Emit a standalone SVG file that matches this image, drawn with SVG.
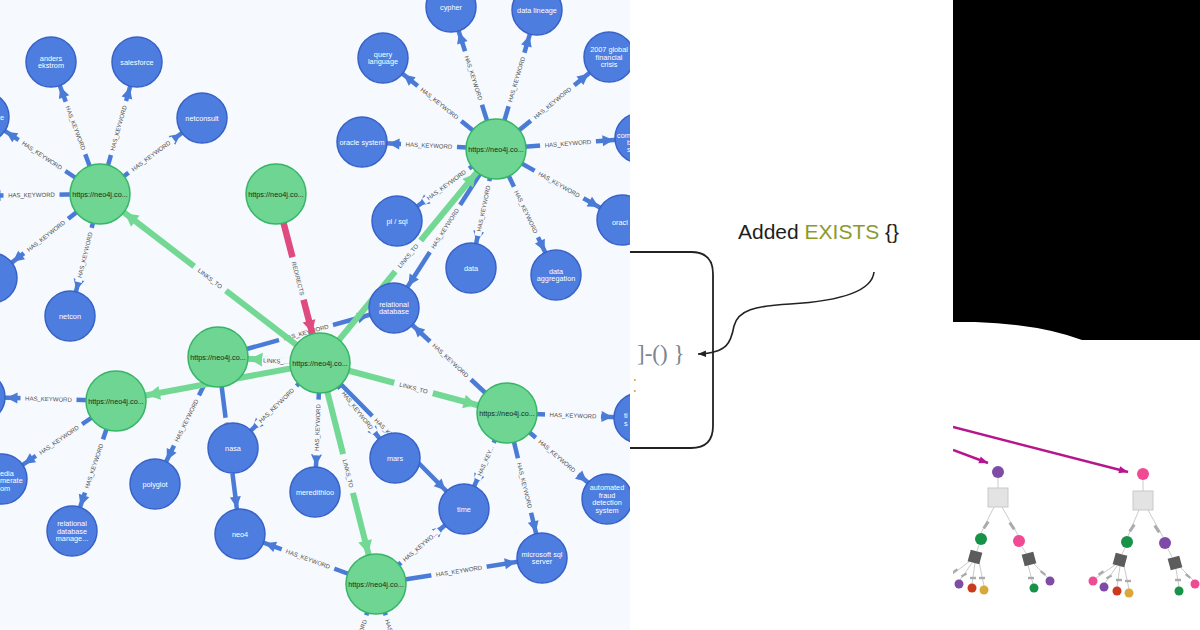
<svg xmlns="http://www.w3.org/2000/svg" width="1200" height="630" viewBox="0 0 1200 630">
<style>
.nb{fill:#4c7ddf;stroke:#3862c8;stroke-width:1.5}
.ng{fill:#6fd592;stroke:#36b566;stroke-width:1.5}
.tb{font-family:"Liberation Sans",Arial,sans-serif;font-size:7.3px;fill:#fff;text-anchor:middle}
.ts{font-family:"Liberation Sans",Arial,sans-serif;font-size:7.3px;fill:#fff}
.tg{font-family:"Liberation Sans",Arial,sans-serif;font-size:7.3px;fill:#1b2a20;text-anchor:middle}
.ek{stroke:#4a7bd6;stroke-width:4.5;fill:none;marker-end:url(#ab)}
.el{stroke:#72d894;stroke-width:6;fill:none;marker-end:url(#ag)}
.er{stroke:#df4a80;stroke-width:6.5;fill:none;marker-end:url(#ap)}
.lr{fill:#f6f9fd}
.lt{font-family:"Liberation Sans",Arial,sans-serif;font-size:6px;fill:#4d4d4d;text-anchor:middle}
.tl{stroke:#bdbdbd;stroke-width:0.8;fill:none}
.tr{fill:#ababab}
.dq{fill:#5c5c5c}
.lq{fill:#e3e3e3;stroke:#c9c9c9;stroke-width:1}
.cp{fill:#7e4ca6}.cg{fill:#179347}.ck{fill:#ef4a93}.cr{fill:#cc3a1e}.cy{fill:#d8a93a}
.mg{stroke:#b5168e;stroke-width:2.5;fill:none;marker-end:url(#am)}
</style>
<defs>
<clipPath id="cl"><rect x="0" y="0" width="630" height="630"/></clipPath>
<clipPath id="crt"><rect x="953" y="340" width="247" height="290"/></clipPath>
<marker id="ab" markerUnits="userSpaceOnUse" orient="auto" refX="37.5" refY="0" markerWidth="12" markerHeight="12" overflow="visible"><path d="M0,-5.5 L11,0 L0,5.5 Z" fill="#4a7bd6"/></marker>
<marker id="ag" markerUnits="userSpaceOnUse" orient="auto" refX="44.5" refY="0" markerWidth="14" markerHeight="14" overflow="visible"><path d="M0,-7 L13,0 L0,7 Z" fill="#72d894"/></marker>
<marker id="ap" markerUnits="userSpaceOnUse" orient="auto" refX="43.5" refY="0" markerWidth="14" markerHeight="14" overflow="visible"><path d="M0,-6.5 L12,0 L0,6.5 Z" fill="#df4a80"/></marker>
<marker id="am" markerUnits="userSpaceOnUse" orient="auto" refX="9" refY="0" markerWidth="10" markerHeight="10" overflow="visible"><path d="M0,-3.5 L9,0 L0,3.5 Z" fill="#b5168e"/></marker>
<marker id="ak" markerUnits="userSpaceOnUse" orient="auto" refX="8" refY="0" markerWidth="10" markerHeight="10" overflow="visible"><path d="M0,-3.2 L8,0 L0,3.2 Z" fill="#222"/></marker>
</defs>
<rect x="0" y="0" width="1200" height="630" fill="#ffffff"/>
<rect x="0" y="0" width="630" height="630" fill="#f6f9fd"/>

<g id="connectors" clip-path="url(#cl)">
<line class="ek" x1="100" y1="194" x2="51" y2="62"/><g transform="translate(75.5,128) rotate(69.6)"><rect class="lr" x="-28" y="-3.5" width="56" height="7"/><text class="lt" y="2.1">HAS_KEYWORD</text></g>
<line class="ek" x1="100" y1="194" x2="137" y2="62"/><g transform="translate(118.5,128) rotate(-74.3)"><rect class="lr" x="-28" y="-3.5" width="56" height="7"/><text class="lt" y="2.1">HAS_KEYWORD</text></g>
<line class="ek" x1="100" y1="194" x2="202" y2="118"/><g transform="translate(151,156) rotate(-36.7)"><rect class="lr" x="-28" y="-3.5" width="56" height="7"/><text class="lt" y="2.1">HAS_KEYWORD</text></g>
<line class="ek" x1="100" y1="194" x2="-16" y2="117"/><g transform="translate(42,155.5) rotate(33.6)"><rect class="lr" x="-28" y="-3.5" width="56" height="7"/><text class="lt" y="2.1">HAS_KEYWORD</text></g>
<line class="ek" x1="100" y1="194" x2="-37" y2="196"/><g transform="translate(31.5,195) rotate(-0.8)"><rect class="lr" x="-28" y="-3.5" width="56" height="7"/><text class="lt" y="2.1">HAS_KEYWORD</text></g>
<line class="ek" x1="100" y1="194" x2="-8" y2="278"/><g transform="translate(46,236) rotate(-37.9)"><rect class="lr" x="-28" y="-3.5" width="56" height="7"/><text class="lt" y="2.1">HAS_KEYWORD</text></g>
<line class="ek" x1="100" y1="194" x2="70" y2="316"/><g transform="translate(85,255) rotate(-76.2)"><rect class="lr" x="-28" y="-3.5" width="56" height="7"/><text class="lt" y="2.1">HAS_KEYWORD</text></g>
<line class="ek" x1="496" y1="149" x2="451" y2="7"/><g transform="translate(473.5,78) rotate(72.4)"><rect class="lr" x="-28" y="-3.5" width="56" height="7"/><text class="lt" y="2.1">HAS_KEYWORD</text></g>
<line class="ek" x1="496" y1="149" x2="537" y2="10"/><g transform="translate(516.5,79.5) rotate(-73.6)"><rect class="lr" x="-28" y="-3.5" width="56" height="7"/><text class="lt" y="2.1">HAS_KEYWORD</text></g>
<line class="ek" x1="496" y1="149" x2="383" y2="58"/><g transform="translate(439.5,103.5) rotate(38.8)"><rect class="lr" x="-28" y="-3.5" width="56" height="7"/><text class="lt" y="2.1">HAS_KEYWORD</text></g>
<line class="ek" x1="496" y1="149" x2="609" y2="57"/><g transform="translate(552.5,103) rotate(-39.2)"><rect class="lr" x="-28" y="-3.5" width="56" height="7"/><text class="lt" y="2.1">HAS_KEYWORD</text></g>
<line class="ek" x1="496" y1="149" x2="362" y2="142"/><g transform="translate(429,145.5) rotate(3)"><rect class="lr" x="-28" y="-3.5" width="56" height="7"/><text class="lt" y="2.1">HAS_KEYWORD</text></g>
<line class="ek" x1="496" y1="149" x2="640" y2="138"/><g transform="translate(568,143.5) rotate(-4.4)"><rect class="lr" x="-28" y="-3.5" width="56" height="7"/><text class="lt" y="2.1">HAS_KEYWORD</text></g>
<line class="ek" x1="496" y1="149" x2="622" y2="220"/><g transform="translate(559,184.5) rotate(29.4)"><rect class="lr" x="-28" y="-3.5" width="56" height="7"/><text class="lt" y="2.1">HAS_KEYWORD</text></g>
<line class="ek" x1="496" y1="149" x2="397" y2="221"/><g transform="translate(446.5,185) rotate(-36)"><rect class="lr" x="-28" y="-3.5" width="56" height="7"/><text class="lt" y="2.1">HAS_KEYWORD</text></g>
<line class="ek" x1="496" y1="149" x2="471" y2="268"/><g transform="translate(483.5,208.5) rotate(-78.1)"><rect class="lr" x="-28" y="-3.5" width="56" height="7"/><text class="lt" y="2.1">HAS_KEYWORD</text></g>
<line class="ek" x1="496" y1="149" x2="556" y2="275"/><g transform="translate(526,212) rotate(64.5)"><rect class="lr" x="-28" y="-3.5" width="56" height="7"/><text class="lt" y="2.1">HAS_KEYWORD</text></g>
<line class="ek" x1="496" y1="149" x2="394" y2="308"/><g transform="translate(445,228.5) rotate(-57.3)"><rect class="lr" x="-28" y="-3.5" width="56" height="7"/><text class="lt" y="2.1">HAS_KEYWORD</text></g>
<line class="ek" x1="218" y1="357" x2="394" y2="308"/><g transform="translate(306,332.5) rotate(-15.6)"><rect class="lr" x="-28" y="-3.5" width="56" height="7"/><text class="lt" y="2.1">HAS_KEYWORD</text></g>
<line class="ek" x1="320" y1="363" x2="233" y2="448"/><g transform="translate(276.5,405.5) rotate(-44.3)"><rect class="lr" x="-28" y="-3.5" width="56" height="7"/><text class="lt" y="2.1">HAS_KEYWORD</text></g>
<line class="ek" x1="320" y1="363" x2="315" y2="492"/><g transform="translate(317.5,427.5) rotate(-87.8)"><rect class="lr" x="-28" y="-3.5" width="56" height="7"/><text class="lt" y="2.1">HAS_KEYWORD</text></g>
<line class="ek" x1="320" y1="363" x2="395" y2="458"/><g transform="translate(357.5,410.5) rotate(51.7)"><rect class="lr" x="-28" y="-3.5" width="56" height="7"/><text class="lt" y="2.1">HAS_KEYWORD</text></g>
<line class="ek" x1="320" y1="363" x2="464" y2="509"/><g transform="translate(392,436) rotate(45.4)"><rect class="lr" x="-28" y="-3.5" width="56" height="7"/><text class="lt" y="2.1">HAS_KEYWORD</text></g>
<line class="ek" x1="218" y1="357" x2="155" y2="484"/><g transform="translate(186.5,420.5) rotate(-63.6)"><rect class="lr" x="-28" y="-3.5" width="56" height="7"/><text class="lt" y="2.1">HAS_KEYWORD</text></g>
<line class="ek" x1="218" y1="357" x2="240" y2="534"/><g transform="translate(229,445.5) rotate(82.9)"><rect class="lr" x="-28" y="-3.5" width="56" height="7"/><text class="lt" y="2.1">HAS_KEYWORD</text></g>
<line class="ek" x1="116" y1="401" x2="-20" y2="397"/><g transform="translate(48.5,399) rotate(1.7)"><rect class="lr" x="-28" y="-3.5" width="56" height="7"/><text class="lt" y="2.1">HAS_KEYWORD</text></g>
<line class="ek" x1="116" y1="401" x2="2" y2="479"/><g transform="translate(59,440) rotate(-34.4)"><rect class="lr" x="-28" y="-3.5" width="56" height="7"/><text class="lt" y="2.1">HAS_KEYWORD</text></g>
<line class="ek" x1="116" y1="401" x2="72" y2="531"/><g transform="translate(94,466) rotate(-71.3)"><rect class="lr" x="-28" y="-3.5" width="56" height="7"/><text class="lt" y="2.1">HAS_KEYWORD</text></g>
<line class="ek" x1="507" y1="413" x2="394" y2="308"/><g transform="translate(450.5,360.5) rotate(42.9)"><rect class="lr" x="-28" y="-3.5" width="56" height="7"/><text class="lt" y="2.1">HAS_KEYWORD</text></g>
<line class="ek" x1="507" y1="413" x2="639" y2="418"/><g transform="translate(573,415.5) rotate(2.2)"><rect class="lr" x="-28" y="-3.5" width="56" height="7"/><text class="lt" y="2.1">HAS_KEYWORD</text></g>
<line class="ek" x1="507" y1="413" x2="607" y2="499"/><g transform="translate(557,456) rotate(40.7)"><rect class="lr" x="-28" y="-3.5" width="56" height="7"/><text class="lt" y="2.1">HAS_KEYWORD</text></g>
<line class="ek" x1="507" y1="413" x2="542" y2="558"/><g transform="translate(524.5,485.5) rotate(76.4)"><rect class="lr" x="-28" y="-3.5" width="56" height="7"/><text class="lt" y="2.1">HAS_KEYWORD</text></g>
<line class="ek" x1="507" y1="413" x2="464" y2="509"/><g transform="translate(485.5,461) rotate(-65.9)"><rect class="lr" x="-20" y="-3.5" width="40" height="7"/><text class="lt" y="2.1">HAS_KEY...</text></g>
<line class="ek" x1="376" y1="584" x2="464" y2="509"/><g transform="translate(420,546.5) rotate(-40.4)"><rect class="lr" x="-25" y="-3.5" width="50" height="7"/><text class="lt" y="2.1">HAS_KEYWO...</text></g>
<line class="ek" x1="376" y1="584" x2="542" y2="558"/><g transform="translate(459,571) rotate(-8.9)"><rect class="lr" x="-28" y="-3.5" width="56" height="7"/><text class="lt" y="2.1">HAS_KEYWORD</text></g>
<line class="ek" x1="376" y1="584" x2="240" y2="534"/><g transform="translate(308,559) rotate(20.2)"><rect class="lr" x="-28" y="-3.5" width="56" height="7"/><text class="lt" y="2.1">HAS_KEYWORD</text></g>
<line class="ek" x1="376" y1="584" x2="340" y2="700"/><g transform="translate(358,642) rotate(-72.8)"><rect class="lr" x="-28" y="-3.5" width="56" height="7"/><text class="lt" y="2.1">HAS_KEYWORD</text></g>
<line class="ek" x1="376" y1="584" x2="412" y2="700"/><g transform="translate(394,642) rotate(72.8)"><rect class="lr" x="-28" y="-3.5" width="56" height="7"/><text class="lt" y="2.1">HAS_KEYWORD</text></g>

<line class="el" x1="320" y1="363" x2="100" y2="194"/><g transform="translate(210,278.5) rotate(37.5)"><rect class="lr" x="-20" y="-4" width="40" height="8"/><text class="lt" y="2.1">LINKS_TO</text></g>
<line class="el" x1="320" y1="363" x2="496" y2="149"/><g transform="translate(408,256) rotate(-50.6)"><rect class="lr" x="-20" y="-4" width="40" height="8"/><text class="lt" y="2.1">LINKS_TO</text></g>
<line class="el" x1="320" y1="363" x2="116" y2="401"/>
<line class="el" x1="320" y1="363" x2="218" y2="357"/><g transform="translate(276,361) rotate(3.4)"><rect class="lr" x="-14" y="-4" width="28" height="8"/><text class="lt" y="2.1">LINKS_...</text></g>
<line class="el" x1="320" y1="363" x2="507" y2="413"/><g transform="translate(413.5,388) rotate(15)"><rect class="lr" x="-20" y="-4" width="40" height="8"/><text class="lt" y="2.1">LINKS_TO</text></g>
<line class="el" x1="320" y1="363" x2="376" y2="584"/><g transform="translate(348,473.5) rotate(75.8)"><rect class="lr" x="-20" y="-4" width="40" height="8"/><text class="lt" y="2.1">LINKS_TO</text></g>

<line class="er" x1="276" y1="194" x2="320" y2="363"/><g transform="translate(298,278.5) rotate(75.4)"><rect class="lr" x="-22" y="-4" width="44" height="8"/><text class="lt" y="2.1">REDIRECTS</text></g>
</g>

<g id="nodes" clip-path="url(#cl)">
<g id="n-anders"><circle class="nb" cx="51" cy="62" r="25"/><text class="tb"><tspan x="51" y="60.85">anders</tspan><tspan x="51" y="68.35">ekstrom</tspan></text></g>
<g id="n-salesforce"><circle class="nb" cx="137" cy="62" r="25"/><text class="tb" x="137" y="64.6">salesforce</text></g>
<g id="n-netconsult"><circle class="nb" cx="202" cy="118" r="25"/><text class="tb" x="202" y="120.6">netconsult</text></g>
<g id="n-left1"><circle class="nb" cx="-16" cy="117" r="25"/><text class="ts" x="0" y="119.6">e</text></g>
<g id="n-left3"><circle class="nb" cx="-8" cy="278" r="25"/></g>
<g id="n-netcon"><circle class="nb" cx="70" cy="316" r="25"/><text class="tb" x="70" y="318.6">netcon</text></g>
<g id="n-cypher"><circle class="nb" cx="451" cy="7" r="25"/><text class="tb" x="451" y="9.6">cypher</text></g>
<g id="n-lineage"><circle class="nb" cx="537" cy="10" r="25"/><text class="tb" x="537" y="12.6">data lineage</text></g>
<g id="n-query"><circle class="nb" cx="383" cy="58" r="25"/><text class="tb"><tspan x="383" y="56.85">query</tspan><tspan x="383" y="64.35">language</tspan></text></g>
<g id="n-crisis"><circle class="nb" cx="609" cy="57" r="25"/><text class="tb"><tspan x="609" y="52.1">2007 global</tspan><tspan x="609" y="59.6">financial</tspan><tspan x="609" y="67.1">crisis</tspan></text></g>
<g id="n-oraclesys"><circle class="nb" cx="362" cy="142" r="25"/><text class="tb" x="362" y="144.6">oracle system</text></g>
<g id="n-com"><circle class="nb" cx="640" cy="138" r="25"/><text class="ts"><tspan x="617" y="137.6">com</tspan><tspan x="627" y="144.6">b</tspan><tspan x="627" y="151.6">s</tspan></text></g>
<g id="n-oracle"><circle class="nb" cx="622" cy="220" r="25"/><text class="ts" x="612" y="224.6">oracl</text></g>
<g id="n-plsql"><circle class="nb" cx="397" cy="221" r="25"/><text class="tb" x="397" y="223.6">pl / sql</text></g>
<g id="n-data"><circle class="nb" cx="471" cy="268" r="25"/><text class="tb" x="471" y="270.6">data</text></g>
<g id="n-dataagg"><circle class="nb" cx="556" cy="275" r="25"/><text class="tb"><tspan x="556" y="273.85">data</tspan><tspan x="556" y="281.35">aggregation</tspan></text></g>
<g id="n-reldb"><circle class="nb" cx="394" cy="308" r="25"/><text class="tb"><tspan x="394" y="306.85">relational</tspan><tspan x="394" y="314.35">database</tspan></text></g>
<g id="n-mars"><circle class="nb" cx="395" cy="458" r="25"/><text class="tb" x="395" y="460.6">mars</text></g>
<g id="n-time"><circle class="nb" cx="464" cy="509" r="25"/><text class="tb" x="464" y="511.6">time</text></g>
<g id="n-fraud"><circle class="nb" cx="607" cy="499" r="25"/><text class="tb"><tspan x="607" y="490.35">automated</tspan><tspan x="607" y="497.85">fraud</tspan><tspan x="607" y="505.35">detection</tspan><tspan x="607" y="512.85">system</tspan></text></g>
<g id="n-mssql"><circle class="nb" cx="542" cy="558" r="25"/><text class="tb"><tspan x="542" y="556.85">microsoft sql</tspan><tspan x="542" y="564.35">server</tspan></text></g>
<g id="n-ts"><circle class="nb" cx="639" cy="418" r="25"/><text class="ts"><tspan x="624" y="417.6">ti</tspan><tspan x="624" y="425.6">s</tspan></text></g>
<g id="n-left4"><circle class="nb" cx="-20" cy="397" r="25"/></g>
<g id="n-media"><circle class="nb" cx="2" cy="479" r="25"/><text class="ts"><tspan x="0" y="475.6">edia</tspan><tspan x="0" y="483.1">merate</tspan><tspan x="0" y="490.6">om</tspan></text></g>
<g id="n-rdbm"><circle class="nb" cx="72" cy="531" r="25"/><text class="tb"><tspan x="72" y="526.1">relational</tspan><tspan x="72" y="533.6">database</tspan><tspan x="72" y="541.1">manage...</tspan></text></g>
<g id="n-polyglot"><circle class="nb" cx="155" cy="484" r="25"/><text class="tb" x="155" y="486.6">polyglot</text></g>
<g id="n-nasa"><circle class="nb" cx="233" cy="448" r="25"/><text class="tb" x="233" y="450.6">nasa</text></g>
<g id="n-neo4"><circle class="nb" cx="240" cy="534" r="25"/><text class="tb" x="240" y="536.6">neo4</text></g>
<g id="n-mered"><circle class="nb" cx="315" cy="492" r="25"/><text class="tb" x="315" y="494.6">meredithloo</text></g>

<g id="hub-a"><circle class="ng" cx="100" cy="194" r="30"/><text class="tg" x="100" y="196.6">https://neo4j.co...</text></g>
<g id="hub-b"><circle class="ng" cx="276" cy="194" r="30"/><text class="tg" x="276" y="196.6">https://neo4j.co...</text></g>
<g id="hub-c"><circle class="ng" cx="496" cy="149" r="30"/><text class="tg" x="496" y="151.6">https://neo4j.co...</text></g>
<g id="hub-d"><circle class="ng" cx="320" cy="363" r="30"/><text class="tg" x="320" y="365.6">https://neo4j.co...</text></g>
<g id="hub-e"><circle class="ng" cx="507" cy="413" r="30"/><text class="tg" x="507" y="415.6">https://neo4j.co...</text></g>
<g id="hub-f"><circle class="ng" cx="376" cy="584" r="30"/><text class="tg" x="376" y="586.6">https://neo4j.co...</text></g>
<g id="hub-g"><circle class="ng" cx="116" cy="401" r="30"/><text class="tg" x="116" y="403.6">https://neo4j.co...</text></g>
<g id="hub-h"><circle class="ng" cx="218" cy="357" r="30"/><text class="tg" x="218" y="359.6">https://neo4j.co...</text></g>
</g>

<g id="middle">
<path d="M630,252 H691 Q713,252 713,274 V426 Q713,448 691,448 H630" fill="none" stroke="#222" stroke-width="1.8"/>
<text x="637" y="361" font-family="'Liberation Serif',serif" font-size="23" fill="#7a8590">]-() }</text>
<rect x="634" y="379" width="1.6" height="2" fill="#d2aa4a"/>
<rect x="634" y="390" width="1.6" height="2" fill="#d2aa4a"/>
<text x="738" y="239" font-family="'Liberation Sans',Arial,sans-serif" font-size="21" fill="#1e1e1e">Added <tspan fill="#8c9a2b">EXISTS</tspan> {}</text>
<path d="M874,272 C872,292 840,301 790,304 C755,306 738,310 734,326 C731,342 728,353 698,354" fill="none" stroke="#222" stroke-width="1.6" marker-end="url(#ak)"/>
</g>

<path id="black-panel" d="M953,0 H1200 V340 H1082 Q1040,324 975,322 H953 Z" fill="#000"/>

<g id="trees" clip-path="url(#crt)">
<line class="mg" x1="953" y1="427" x2="1128" y2="472"/>
<line class="mg" x1="953" y1="450" x2="988" y2="463"/>
<!-- tree 1 -->
<line class="tl" x1="998" y1="478" x2="998" y2="488"/>
<line class="tl" x1="994" y1="507" x2="981" y2="533"/>
<line class="tl" x1="1002" y1="507" x2="1018" y2="535"/>
<rect class="tr" x="-4" y="-1.5" width="8" height="3" transform="translate(986,525) rotate(-55)"/>
<rect class="tr" x="-4" y="-1.5" width="8" height="3" transform="translate(1012,526) rotate(55)"/>
<rect class="lq" x="988" y="488" width="20" height="19"/>
<circle class="cp" cx="998" cy="472" r="6"/>
<line class="tl" x1="979" y1="545" x2="977" y2="551"/>
<line class="tl" x1="1022" y1="547" x2="1026" y2="553"/>
<line class="tl" x1="970" y1="561" x2="945" y2="580"/>
<line class="tl" x1="972" y1="563" x2="960" y2="580"/>
<line class="tl" x1="975" y1="563" x2="972" y2="584"/>
<line class="tl" x1="979" y1="562" x2="984" y2="586"/>
<line class="tl" x1="1028" y1="565" x2="1033" y2="584"/>
<line class="tl" x1="1033" y1="563" x2="1047" y2="577"/>
<rect class="tr" x="-3" y="-1.2" width="6" height="2.4" transform="translate(955,571) rotate(-35)"/>
<rect class="tr" x="-3" y="-1.2" width="6" height="2.4" transform="translate(964,575) rotate(-30)"/>
<rect class="tr" x="-3" y="-1.2" width="6" height="2.4" transform="translate(973,578)"/>
<rect class="tr" x="-3" y="-1.2" width="6" height="2.4" transform="translate(982,578)"/>
<rect class="tr" x="-3" y="-1.2" width="6" height="2.4" transform="translate(1031,578)"/>
<rect class="tr" x="-3" y="-1.2" width="6" height="2.4" transform="translate(1043,573) rotate(40)"/>
<circle class="cg" cx="981" cy="539" r="6"/>
<circle class="ck" cx="1019" cy="541" r="6"/>
<rect class="dq" x="-6" y="-6" width="12" height="12" transform="translate(975,557) rotate(15)"/>
<rect class="dq" x="-6" y="-6" width="12" height="12" transform="translate(1029,559) rotate(-15)"/>
<circle class="cp" cx="959" cy="584" r="4.5"/>
<circle class="cr" cx="972" cy="588" r="4.5"/>
<circle class="cy" cx="984" cy="590" r="4.5"/>
<circle class="cg" cx="1034" cy="588" r="4.5"/>
<circle class="cp" cx="1050" cy="581" r="4.5"/>
<!-- tree 2 -->
<line class="tl" x1="1143" y1="480" x2="1143" y2="491"/>
<line class="tl" x1="1139" y1="510" x2="1128" y2="536"/>
<line class="tl" x1="1148" y1="510" x2="1163" y2="537"/>
<rect class="tr" x="-4" y="-1.5" width="8" height="3" transform="translate(1132,528) rotate(-55)"/>
<rect class="tr" x="-4" y="-1.5" width="8" height="3" transform="translate(1157,529) rotate(55)"/>
<rect class="lq" x="1133" y="491" width="20" height="19"/>
<circle class="ck" cx="1143" cy="474" r="6"/>
<line class="tl" x1="1125" y1="548" x2="1122" y2="554"/>
<line class="tl" x1="1168" y1="549" x2="1172" y2="557"/>
<line class="tl" x1="1115" y1="565" x2="1096" y2="578"/>
<line class="tl" x1="1117" y1="566" x2="1105" y2="583"/>
<line class="tl" x1="1120" y1="566" x2="1117" y2="587"/>
<line class="tl" x1="1124" y1="566" x2="1129" y2="589"/>
<line class="tl" x1="1176" y1="569" x2="1179" y2="587"/>
<line class="tl" x1="1180" y1="567" x2="1193" y2="580"/>
<rect class="tr" x="-3" y="-1.2" width="6" height="2.4" transform="translate(1101,573) rotate(-35)"/>
<rect class="tr" x="-3" y="-1.2" width="6" height="2.4" transform="translate(1109,577) rotate(-30)"/>
<rect class="tr" x="-3" y="-1.2" width="6" height="2.4" transform="translate(1119,580)"/>
<rect class="tr" x="-3" y="-1.2" width="6" height="2.4" transform="translate(1128,581)"/>
<rect class="tr" x="-3" y="-1.2" width="6" height="2.4" transform="translate(1178,580)"/>
<rect class="tr" x="-3" y="-1.2" width="6" height="2.4" transform="translate(1188,576) rotate(40)"/>
<circle class="cg" cx="1127" cy="542" r="6"/>
<circle class="cp" cx="1165" cy="543" r="6"/>
<rect class="dq" x="-6" y="-6" width="12" height="12" transform="translate(1120,560) rotate(15)"/>
<rect class="dq" x="-6" y="-6" width="12" height="12" transform="translate(1175,563) rotate(-15)"/>
<circle class="ck" cx="1093" cy="581" r="4.5"/>
<circle class="cp" cx="1104" cy="587" r="4.5"/>
<circle class="cr" cx="1117" cy="591" r="4.5"/>
<circle class="cy" cx="1129" cy="593" r="4.5"/>
<circle class="cg" cx="1179" cy="591" r="4.5"/>
<circle class="ck" cx="1195" cy="584" r="4.5"/>
</g>
</svg>
